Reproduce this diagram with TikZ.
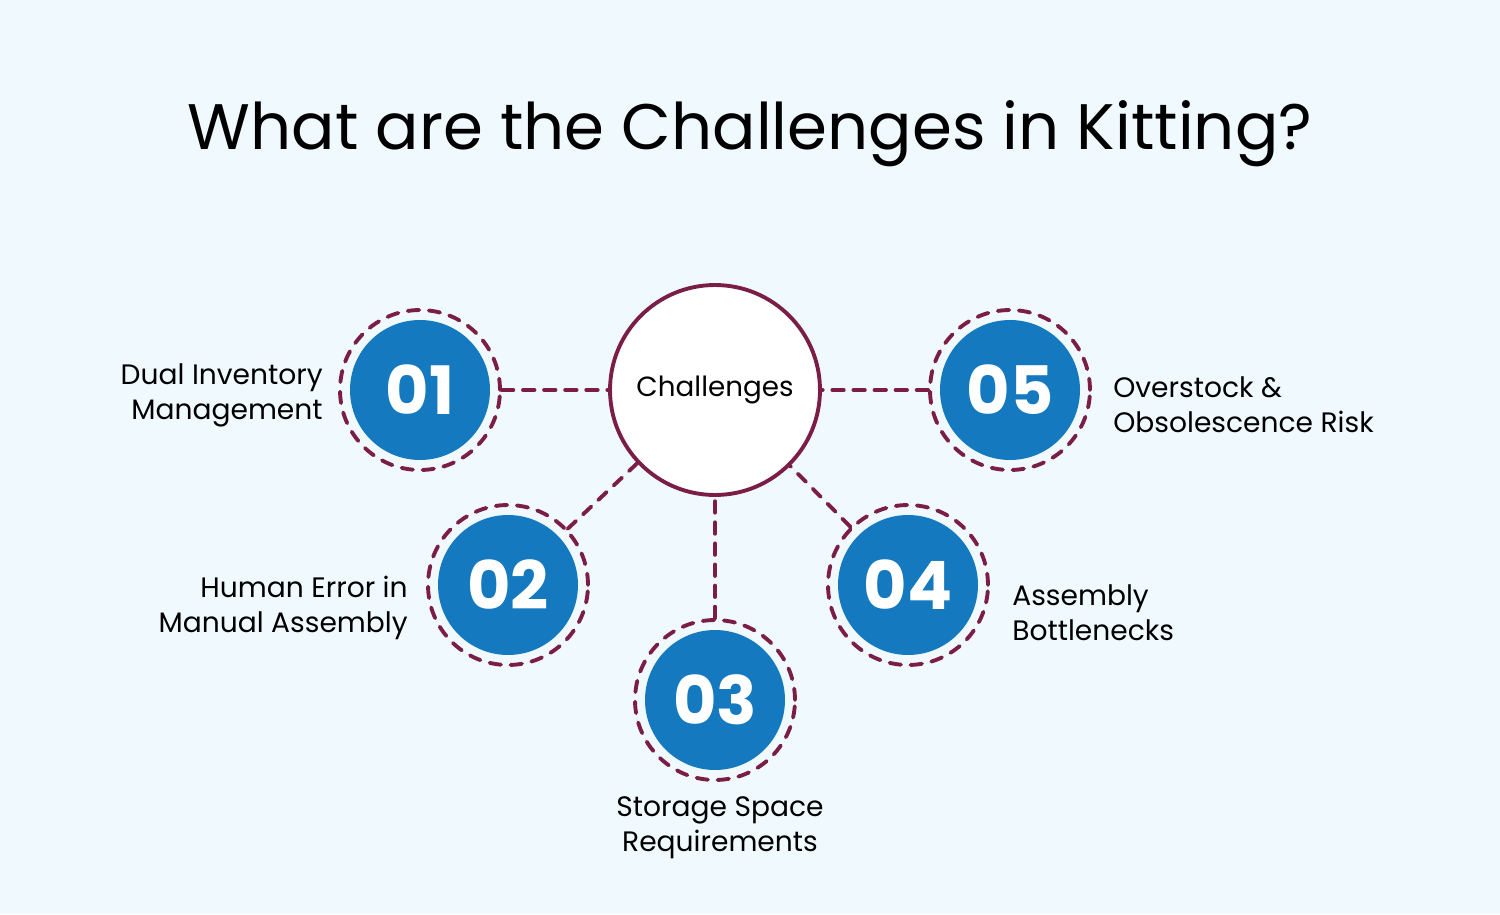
\documentclass[tikz,border=0pt]{standalone}
\usepackage{fontspec}
\setmainfont{Poppins}
\definecolor{bgblue}{HTML}{EFF9FE}
\definecolor{numblue}{HTML}{1479BE}
\definecolor{wine}{HTML}{7A1E48}
\begin{document}
\begin{tikzpicture}[x=0.02cm,y=0.02cm,
    numdisc/.style={circle,fill=numblue,minimum size=2.8cm,inner sep=0pt,text=white,font=\bfseries\fontsize{38}{38}\selectfont},
    ring/.style={circle,draw=wine,line width=2.2pt,dash pattern=on 6.5pt off 5.5pt,line cap=round,minimum size=3.2cm,inner sep=0pt},
    link/.style={draw=wine,line width=2.2pt,dash pattern=on 6.5pt off 5.5pt,line cap=round},
    itemtext/.style={font=\fontsize{16}{20}\selectfont,inner sep=0pt}]
    \fill[bgblue] (0,0) rectangle (1500,914);
    \useasboundingbox (0,0) rectangle (1500,914);

    \node (title) at (750,780) {\fontsize{36.6}{40}\selectfont What are the Challenges in Kitting?};

    \coordinate (p1) at (420,524);
    \coordinate (p2) at (508,329);
    \coordinate (p3) at (715,214);
    \coordinate (p4) at (908,329);
    \coordinate (p5) at (1010,524);

    \node[circle,draw=wine,line width=2.2pt,fill=white,minimum size=4.2cm,font=\fontsize{15.8}{16}\selectfont] (hub) at (715,524) {Challenges};

    \node[ring] (r1) at (p1) {};
    \node[ring] (r2) at (p2) {};
    \node[ring] (r3) at (p3) {};
    \node[ring] (r4) at (p4) {};
    \node[ring] (r5) at (p5) {};
    \node[numdisc] (n1) at (p1) {01};
    \node[numdisc] (n2) at (p2) {02};
    \node[numdisc] (n3) at (p3) {03};
    \node[numdisc] (n4) at (p4) {04};
    \node[numdisc] (n5) at (p5) {05};

    \draw[link] (r1)--(hub);
    \draw[link] (r2)--(hub);
    \draw[link] (r3)--(hub);
    \draw[link] (r4)--(hub);
    \draw[link] (r5)--(hub);

    \node[itemtext,anchor=east,align=right] (t1) at (323,519) {Dual Inventory\\Management};
    \node[itemtext,anchor=east,align=right] (t2) at (408,306) {Human Error in\\Manual Assembly};
    \node[itemtext,align=center] (t3) at (720,86) {Storage Space\\Requirements};
    \node[itemtext,anchor=west,align=left] (t4) at (1012,301) {Assembly\\Bottlenecks};
    \node[itemtext,anchor=west,align=left] (t5) at (1113,509) {Overstock \&\\Obsolescence Risk};
\end{tikzpicture}
\end{document}
